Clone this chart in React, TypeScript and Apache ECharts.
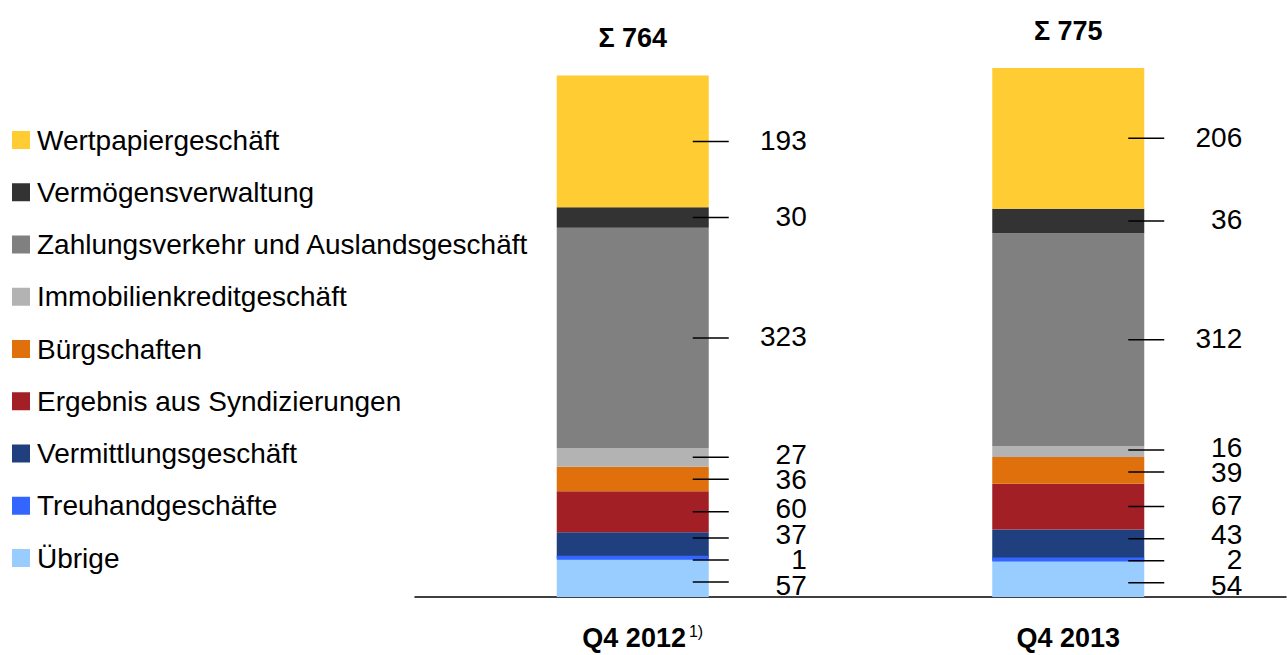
import React, { useEffect, useRef } from "react";
import * as echarts from "echarts";

const categories = ["Q4 2012", "Q4 2013"];
const footnotes = ["1)", ""];

// stacking order: bottom to top
const seriesNames = [
  "Übrige",
  "Treuhandgeschäfte",
  "Vermittlungsgeschäft",
  "Ergebnis aus Syndizierungen",
  "Bürgschaften",
  "Immobilienkreditgeschäft",
  "Zahlungsverkehr und Auslandsgeschäft",
  "Vermögensverwaltung",
  "Wertpapiergeschäft",
];
const uebrige = [57, 54];
const treuhand = [1, 2];
const vermittlung = [37, 43];
const syndizierung = [60, 67];
const buergschaften = [36, 39];
const immobilien = [27, 16];
const zahlungsverkehr = [323, 312];
const vermoegen = [30, 36];
const wertpapier = [193, 206];
const seriesValues = [
  uebrige,
  treuhand,
  vermittlung,
  syndizierung,
  buergschaften,
  immobilien,
  zahlungsverkehr,
  vermoegen,
  wertpapier,
];
const colors = [
  "#99CCFF",
  "#3366FF",
  "#1F3F7F",
  "#A21F25",
  "#E0700B",
  "#B3B3B3",
  "#808080",
  "#333333",
  "#FFCC33",
];
const legendOrder = [...seriesNames].reverse();
const totals = categories.map((_, ci) =>
  seriesValues.reduce((s, arr) => s + arr[ci], 0)
);

const FONT = "'Liberation Sans', Arial, Helvetica, sans-serif";
const BAR_W = 152;
const THIN_MIN = 4;

function spread(input: number[], gap: number): number[] {
  const ys = input.slice();
  for (let it = 0; it < 300; it++) {
    for (let i = 0; i < ys.length - 1; i++) {
      const d = ys[i] - ys[i + 1];
      if (d < gap) {
        const o = (gap - d) / 2;
        ys[i] += o;
        ys[i + 1] -= o;
      }
    }
  }
  return ys;
}

export default function App() {
  const ref = useRef<HTMLDivElement>(null);
  useEffect(() => {
    document.body.style.margin = "0";
    const chart = echarts.init(ref.current!, null, { renderer: "svg" });
    const barSeries = seriesNames.map((name, si) => ({
      name,
      type: "bar",
      stack: "total",
      barWidth: BAR_W,
      data: seriesValues[si],
      itemStyle: { color: colors[si] },
      label:
        si === seriesNames.length - 1
          ? {
              show: true,
              position: "top",
              distance: 24,
              formatter: (p: any) => "Σ " + totals[p.dataIndex],
              fontFamily: FONT,
              fontWeight: "bold",
              fontSize: 27,
              color: "#000",
            }
          : { show: false },
    }));

    const leaderSeries = {
      type: "custom",
      z: 10,
      clip: false,
      silent: true,
      encode: { x: 0, y: 1 },
      data: categories.map((_, ci) => [ci, 0]),
      renderItem: (params: any, api: any) => {
        const ci = api.value(0);
        let cum = 0;
        const mids: number[] = [];
        let cx = 0;
        const children: any[] = [];
        seriesValues.forEach((arr, si) => {
          const v = arr[ci];
          const pt = api.coord([ci, cum + v / 2]);
          mids.push(pt[1]);
          cx = pt[0];
          const yb = api.coord([ci, cum])[1];
          const yt = api.coord([ci, cum + v])[1];
          if (yb - yt < THIN_MIN) {
            // thin segment: keep it visible as a stripe
            children.push({
              type: "rect",
              shape: {
                x: pt[0] - BAR_W / 2,
                y: pt[1] - THIN_MIN / 2,
                width: BAR_W,
                height: THIN_MIN,
              },
              style: { fill: colors[si] },
            });
          }
          cum += v;
        });
        const lineYs = spread(mids, 22);
        const textYs = spread(mids, 25.5);
        seriesValues.forEach((arr, si) => {
          children.push({
            type: "line",
            shape: { x1: cx + 60, y1: lineYs[si], x2: cx + 96, y2: lineYs[si] },
            style: { stroke: "#000", lineWidth: 1.5 },
          });
          children.push({
            type: "text",
            x: cx + 174,
            y: textYs[si] - 1,
            style: {
              text: String(arr[ci]),
              font: `28px ${FONT}`,
              fill: "#000",
              align: "right",
              verticalAlign: "middle",
            },
          });
        });
        return { type: "group", children };
      },
    };

    chart.setOption({
      animation: false,
      backgroundColor: "#fff",
      legend: {
        orient: "vertical",
        left: 12,
        top: 126,
        padding: 0,
        itemWidth: 18,
        itemHeight: 18,
        itemGap: 24.25,
        icon: "rect",
        selectedMode: false,
        data: legendOrder,
        textStyle: {
          fontFamily: FONT,
          fontSize: 28,
          color: "#000",
          padding: [0, 0, 0, 2],
        },
      },
      grid: { left: 415, width: 871, top: 51, height: 546 },
      xAxis: {
        type: "category",
        data: categories,
        axisTick: { show: false },
        axisLine: { lineStyle: { color: "#000", width: 1.5 } },
        axisLabel: {
          margin: 26,
          formatter: (value: string, idx: number) =>
            footnotes[idx]
              ? `{pad|}{b|${value}}{s|${footnotes[idx]}}`
              : `{b|${value}}`,
          rich: {
            pad: { width: 20 },
            b: {
              fontFamily: FONT,
              fontWeight: "bold",
              fontSize: 27,
              color: "#000",
              lineHeight: 30,
            },
            s: {
              fontFamily: FONT,
              fontSize: 16,
              color: "#000",
              verticalAlign: "top",
              padding: [0, 0, 0, 3],
              lineHeight: 16,
            },
          },
        },
      },
      yAxis: {
        type: "value",
        min: 0,
        max: 800,
        show: false,
        splitLine: { show: false },
      },
      series: [...barSeries, leaderSeries],
    });
    return () => chart.dispose();
  }, []);
  return <div ref={ref} style={{ width: 1287, height: 655 }} />;
}
